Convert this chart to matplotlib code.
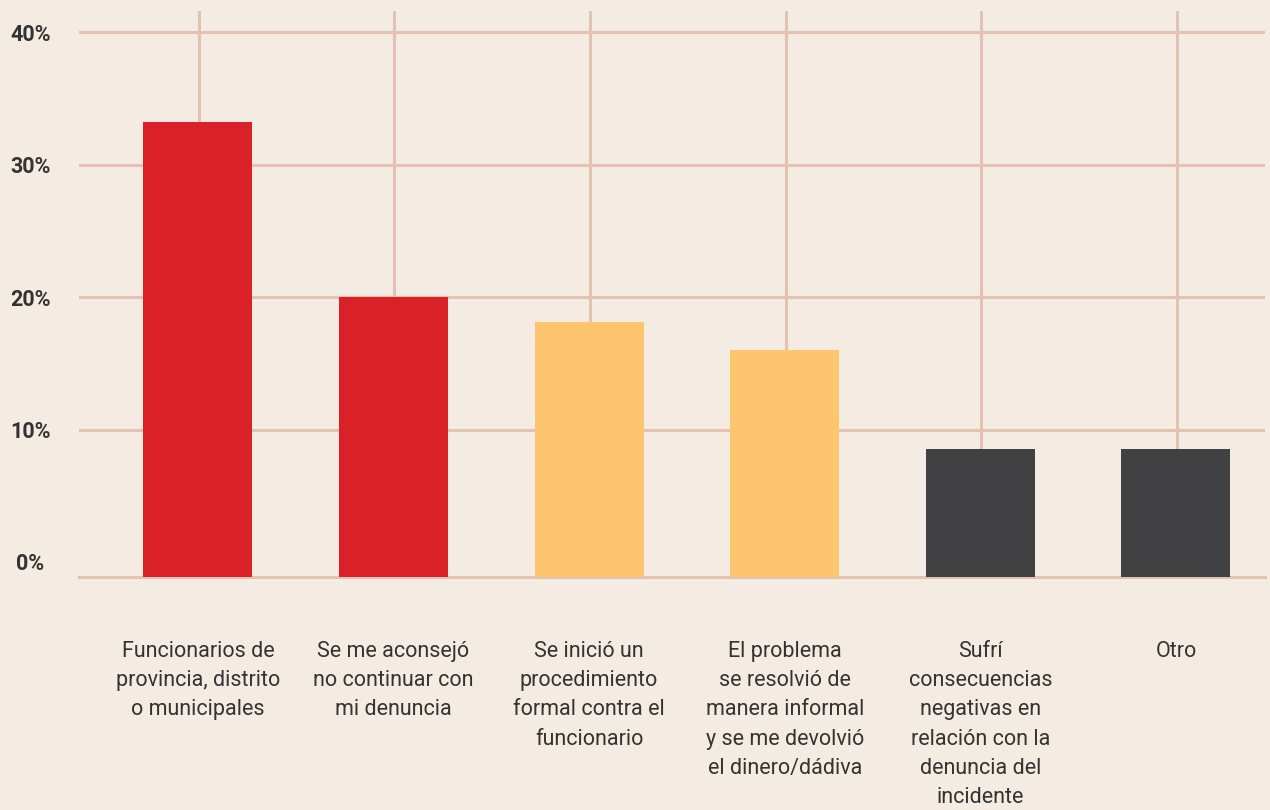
import numpy as np
import matplotlib
matplotlib.use("Agg")
import matplotlib.pyplot as plt

# data
categories = [
    "Funcionarios de\nprovincia, distrito\no municipales",
    "Se me aconsejó\nno continuar con\nmi denuncia",
    "Se inició un\nprocedimiento\nformal contra el\nfuncionario",
    "El problema\nse resolvió de\nmanera informal\ny se me devolvió\nel dinero/dádiva",
    "Sufrí\nconsecuencias\nnegativas en\nrelación con la\ndenuncia del\nincidente",
    "Otro",
]
values = [33.2, 20.0, 18.1, 16.0, 8.5, 8.5]
colors = ["#DA2128", "#DA2128", "#FDC66E", "#FDC66E", "#414042", "#414042"]
yticks = [0, 10, 20, 30, 40]
ytick_labels = ["0%", "10%", "20%", "30%", "40%"]

bg = "#F4EBE2"
grid = "#E4C2B2"
text_col = "#333333"

plt.rcParams["font.family"] = ["Roboto", "DejaVu Sans"]

fig = plt.figure(figsize=(12.7, 8.1), dpi=100, facecolor=bg)
ax = fig.add_axes([0.0622, 0.2877, 0.9338, 0.6987])
ax.set_facecolor(bg)

ymin, ymax = -1.13, 41.6
x = np.arange(len(values))

# grid lines
for t in yticks[1:]:
    ax.axhline(t, color=grid, lw=2.2, zorder=1)
ax.axhline(ymin, color=grid, lw=2.2, zorder=1, clip_on=False)
for xi in x:
    ax.axvline(xi + 0.005, color=grid, lw=2.2, zorder=1)

# bars start at the bottom line
ax.bar(x, np.array(values) - ymin, bottom=ymin, width=0.557, color=colors, zorder=2)

ax.set_xlim(-0.608, 5.455)
ax.set_ylim(ymin, ymax)

for s in ax.spines.values():
    s.set_visible(False)

ax.set_yticks(yticks)
ax.set_yticklabels(ytick_labels, fontsize=15.5, fontweight="bold", color=text_col)
ax.tick_params(axis="y", length=0, pad=35)
for lab in ax.get_yticklabels():
    lab.set_ha("center")

ax.set_xticks([])
for xi, lab in zip(x, categories):
    ax.annotate(lab, xy=(xi, ymin), xytext=(0, -46), textcoords="offset points",
                ha="center", va="top", fontsize=15.5, color=text_col,
                linespacing=1.52, annotation_clip=False)

fig.savefig("out.png", dpi=100, facecolor=bg)
